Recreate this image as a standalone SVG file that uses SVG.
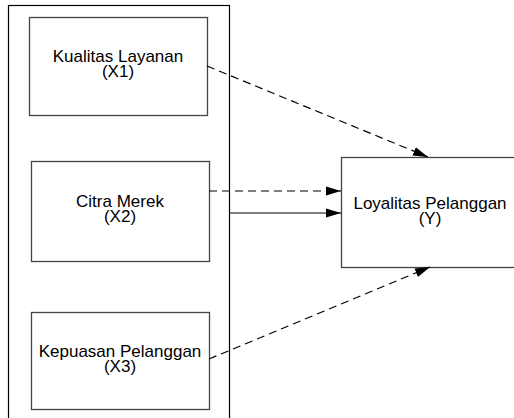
<svg xmlns="http://www.w3.org/2000/svg" width="514" height="418" viewBox="0 0 514 418">
<defs>
<style>
.frame{fill:none;stroke:#000;stroke-width:1.2}
.box{fill:#fff;stroke:#444;stroke-width:1.3}
.lbl{font-family:"Liberation Sans",Arial,sans-serif;font-size:17px;fill:#000;text-anchor:middle}
.dash{fill:none;stroke:#000;stroke-width:1.2;stroke-dasharray:8,5}
.solid{fill:none;stroke:#000;stroke-width:1.2}
</style>
<marker id="ah" markerUnits="userSpaceOnUse" markerWidth="15" markerHeight="10" refX="15" refY="4.5" orient="auto" viewBox="0 0 15 9">
<path d="M0,0 L15,4.5 L0,9 z" fill="#000"/>
</marker>
</defs>
<rect width="514" height="418" fill="#fff"/>
<rect class="frame" x="8.5" y="5.5" width="221" height="430"/>
<g id="x1">
<rect class="box" x="29.5" y="17.5" width="178" height="98"/>
<text class="lbl" x="118" y="62">Kualitas Layanan<tspan x="118" dy="15">(X1)</tspan></text>
</g>
<g id="x2">
<rect class="box" x="31.5" y="161.5" width="178" height="100"/>
<text class="lbl" x="120" y="207">Citra Merek<tspan x="120" dy="15">(X2)</tspan></text>
</g>
<g id="x3">
<rect class="box" x="31.5" y="312.5" width="178" height="97"/>
<text class="lbl" x="120" y="357">Kepuasan Pelanggan<tspan x="120" dy="15">(X3)</tspan></text>
</g>
<g id="y">
<rect class="box" x="341.5" y="157.5" width="178" height="110"/>
<text class="lbl" x="430" y="209">Loyalitas Pelanggan<tspan x="430" dy="15">(Y)</tspan></text>
</g>
<g id="connectors">
<path class="dash" d="M207,66 L428,157" marker-end="url(#ah)"/>
<path class="dash" d="M209,191 L341,191" marker-end="url(#ah)"/>
<path class="solid" d="M230,213 L341,213" marker-end="url(#ah)"/>
<path class="dash" d="M209,359 L430,267" marker-end="url(#ah)"/>
</g>
</svg>
